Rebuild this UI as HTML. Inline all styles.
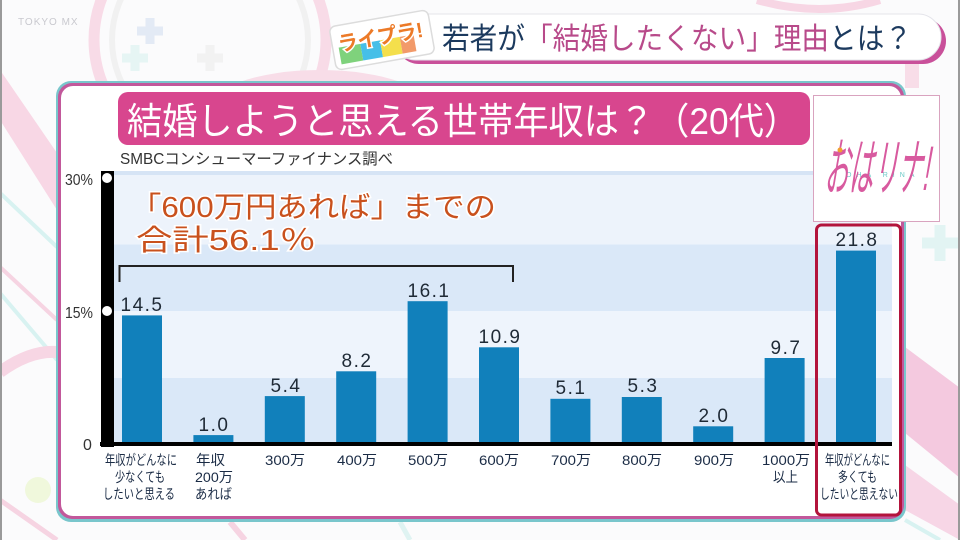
<!DOCTYPE html>
<html><head><meta charset="utf-8">
<style>
html,body{margin:0;padding:0;background:#fff;}
svg{display:block;}
text{font-family:"Liberation Sans","Noto Sans CJK JP",sans-serif;}
</style></head><body>
<svg width="960" height="540" viewBox="0 0 960 540" xmlns="http://www.w3.org/2000/svg">
<rect width="960" height="540" fill="#fbfbfc"/>

<!-- background decorations -->
<circle cx="210" cy="40" r="116" fill="none" stroke="#f8dbe7" stroke-width="11"/>
<circle cx="210" cy="40" r="98" fill="none" stroke="#f1f1f1" stroke-width="6"/>
<ellipse cx="320" cy="112" rx="115" ry="42" fill="#f8dde8"/>
<polygon points="0,70 0,120 57,210 57,153" fill="#f8d7e5"/>
<line x1="0" y1="193" x2="57" y2="247" stroke="#d8f2f1" stroke-width="4"/>
<line x1="0" y1="267" x2="57" y2="320" stroke="#f6d4e2" stroke-width="4"/>
<line x1="0" y1="293" x2="57" y2="360" stroke="#d8f2f1" stroke-width="4"/>
<path d="M0,372 Q30,350 57,352" fill="none" stroke="#f7d6e4" stroke-width="12"/>
<circle cx="38" cy="490" r="13" fill="#f0f8dc"/>
<line x1="0" y1="500" x2="57" y2="540" stroke="#f6d4e2" stroke-width="5"/>
<text x="18" y="25" font-size="10" fill="#c9c9cf" letter-spacing="1">TOKYO MX</text>
<path d="M150,18 v26 M137,31 h26" stroke="#e3eaf5" stroke-width="9"/>
<path d="M210,45 v26 M197,58 h26" stroke="#f2f2f2" stroke-width="9"/>
<path d="M135,45 v26 M122,58 h26" stroke="#e6f5f4" stroke-width="9"/>
<path d="M940,225 v36 M922,243 h36" stroke="#e2f4f3" stroke-width="11"/>
<polygon points="905,347 960,388 960,478 905,433" fill="#f4c9df"/>
<polygon points="905,465 960,505 960,540 905,510" fill="#f7d6e6"/>
<line x1="905" y1="520" x2="940" y2="540" stroke="#d8f2f1" stroke-width="4"/>
<line x1="230" y1="522" x2="245" y2="540" stroke="#f6d4e2" stroke-width="6"/>
<line x1="400" y1="522" x2="410" y2="540" stroke="#dff3f2" stroke-width="5"/>
<path d="M757,0 Q820,18 880,0" fill="none" stroke="#f7d6e4" stroke-width="8"/>
<rect x="905" y="62" width="14" height="26" fill="#f8dde8"/>
<rect x="0" y="0" width="2" height="540" fill="#9a9a9a"/>
<rect x="958" y="0" width="2" height="540" fill="#9a9a9a"/>

<!-- header pill -->
<rect x="396" y="18" width="550" height="46" rx="23" fill="#c9509a"/>
<rect x="393" y="14" width="548" height="46" rx="23" fill="#ffffff" stroke="#e4e4ea" stroke-width="1"/>
<text x="442" y="49" font-size="30" textLength="470" lengthAdjust="spacingAndGlyphs" fill="#1c3a5e"><tspan>若者が</tspan><tspan fill="#b84a8a">「結婚したくない」理由</tspan><tspan>とは？</tspan></text>

<!-- ライプラ logo -->
<g transform="rotate(-10 382 40)">
  <rect x="332" y="18" width="100" height="44" rx="6" fill="#ffffff" stroke="#dcdcdc" stroke-width="1.5"/>
  <rect x="338" y="40" width="22" height="17" fill="#7fd27c"/>
  <rect x="360" y="40" width="20" height="17" fill="#46bfe8"/>
  <rect x="380" y="40" width="20" height="17" fill="#f4df4c"/>
  <rect x="400" y="40" width="14" height="17" fill="#f29a6a"/>
  <text x="338" y="44" font-size="21" font-weight="bold" fill="#ec7a28" stroke="#ffffff" stroke-width="3" paint-order="stroke" textLength="86" lengthAdjust="spacingAndGlyphs">ライプラ!</text>
</g>

<!-- panel -->
<rect x="56" y="81" width="850" height="441" rx="15" fill="#79c6cc"/>
<rect x="58" y="83" width="846" height="436" rx="14" fill="#c2589b"/>
<rect x="61" y="86" width="840" height="430" rx="12" fill="#ffffff"/>

<!-- title banner -->
<rect x="118" y="92" width="692" height="53" rx="10" fill="#d8468e"/>
<text x="127" y="134" font-size="37" fill="#ffffff" textLength="672" lengthAdjust="spacingAndGlyphs">結婚しようと思える世帯年収は？（20代）</text>

<!-- source -->
<text x="120" y="164" font-size="15.5" fill="#333" textLength="273" lengthAdjust="spacingAndGlyphs">SMBCコンシューマーファイナンス調べ</text>

<!-- plot bands -->
<rect x="114" y="171" width="778" height="74" fill="#edf3fb"/>
<rect x="114" y="171" width="778" height="4" fill="#d6e4f5"/>
<rect x="114" y="244.5" width="778" height="66.5" fill="#dae8f8"/>
<rect x="114" y="311" width="778" height="67" fill="#eef4fc"/>
<rect x="114" y="378" width="778" height="66" fill="#dae8f8"/>

<!-- y axis -->
<rect x="101" y="171" width="13" height="276" fill="#000"/>
<circle cx="107" cy="178" r="5" fill="#fff"/>
<circle cx="107" cy="311" r="5" fill="#fff"/>
<text x="65" y="185" font-size="16" fill="#333" textLength="28" lengthAdjust="spacingAndGlyphs">30%</text>
<text x="65" y="318" font-size="16" fill="#333" textLength="28" lengthAdjust="spacingAndGlyphs">15%</text>
<text x="83" y="450" font-size="16" fill="#333">0</text>

<!-- annotation -->
<text x="130" y="217" font-size="29" fill="#c9511d" stroke="#ffffff" stroke-width="3" paint-order="stroke" textLength="366" lengthAdjust="spacingAndGlyphs">「600万円あれば」までの</text>
<text x="136" y="250" font-size="29" fill="#c9511d" stroke="#ffffff" stroke-width="3" paint-order="stroke" textLength="180" lengthAdjust="spacingAndGlyphs">合計56.1％</text>
<path d="M119.5,282 V266 H513 V282" fill="none" stroke="#222" stroke-width="2"/>

<!-- bars -->
<g fill="#1180bb">
<rect x="122" y="315.4" width="40" height="126.6"/>
<rect x="193.4" y="435.1" width="40" height="6.9"/>
<rect x="264.8" y="396.1" width="40" height="45.9"/>
<rect x="336.2" y="371.3" width="40" height="70.7"/>
<rect x="407.6" y="301.2" width="40" height="140.8"/>
<rect x="479" y="347.3" width="40" height="94.7"/>
<rect x="550.4" y="398.8" width="40" height="43.2"/>
<rect x="621.8" y="397" width="40" height="45"/>
<rect x="693.2" y="426.3" width="40" height="15.7"/>
<rect x="764.6" y="358" width="40" height="84"/>
<rect x="836" y="250.6" width="40" height="191.4"/>
</g>

<!-- x axis -->
<rect x="100" y="442" width="792" height="4" fill="#000"/>

<!-- value labels -->
<g font-size="19" fill="#1f2a36" text-anchor="middle" letter-spacing="1.5">
<text x="142" y="311">14.5</text>
<text x="214" y="431">1.0</text>
<text x="286" y="392">5.4</text>
<text x="357" y="367">8.2</text>
<text x="429" y="297">16.1</text>
<text x="500" y="343">10.9</text>
<text x="571" y="394">5.1</text>
<text x="643" y="392">5.3</text>
<text x="714" y="422">2.0</text>
<text x="786" y="354">9.7</text>
<text x="857" y="246">21.8</text>
</g>

<!-- x labels -->
<g font-size="14" fill="#1a2b45">
<text x="105" y="465" textLength="72" lengthAdjust="spacingAndGlyphs">年収がどんなに</text>
<text x="115" y="482" textLength="50" lengthAdjust="spacingAndGlyphs">少なくても</text>
<text x="103" y="499" textLength="72" lengthAdjust="spacingAndGlyphs">したいと思える</text>
<text x="196" y="465" textLength="29" lengthAdjust="spacingAndGlyphs">年収</text>
<text x="195" y="482" textLength="38" lengthAdjust="spacingAndGlyphs">200万</text>
<text x="195" y="499" textLength="37" lengthAdjust="spacingAndGlyphs">あれば</text>
<text x="265" y="465" textLength="40" lengthAdjust="spacingAndGlyphs">300万</text>
<text x="337" y="465" textLength="40" lengthAdjust="spacingAndGlyphs">400万</text>
<text x="408" y="465" textLength="40" lengthAdjust="spacingAndGlyphs">500万</text>
<text x="479" y="465" textLength="40" lengthAdjust="spacingAndGlyphs">600万</text>
<text x="551" y="465" textLength="40" lengthAdjust="spacingAndGlyphs">700万</text>
<text x="622" y="465" textLength="40" lengthAdjust="spacingAndGlyphs">800万</text>
<text x="694" y="465" textLength="40" lengthAdjust="spacingAndGlyphs">900万</text>
<text x="762" y="465" textLength="48" lengthAdjust="spacingAndGlyphs">1000万</text>
<text x="773" y="482" textLength="25" lengthAdjust="spacingAndGlyphs">以上</text>
<text x="825" y="465" textLength="65" lengthAdjust="spacingAndGlyphs">年収がどんなに</text>
<text x="838" y="482" textLength="39" lengthAdjust="spacingAndGlyphs">多くても</text>
<text x="820" y="499" textLength="78" lengthAdjust="spacingAndGlyphs">したいと思えない</text>
</g>

<!-- highlight box -->
<rect x="816.5" y="225" width="84" height="290" rx="5" fill="none" stroke="#b3143c" stroke-width="3"/>

<!-- oharina logo box -->
<rect x="813.5" y="95.5" width="126" height="126" fill="#ffffff" stroke="#d9a3bf" stroke-width="1"/>
<text x="846" y="177" font-size="7" fill="#6ccac8" letter-spacing="5">OHA RINA</text>
<g transform="translate(824,190) skewX(-10) scale(1,1.5)">
  <text x="0" y="0" font-size="42" fill="#d85a9f" textLength="104" lengthAdjust="spacingAndGlyphs">おはリナ!</text>
</g>
<circle cx="840" cy="150" r="2.5" fill="#f0a030"/>
</svg>
</body></html>
